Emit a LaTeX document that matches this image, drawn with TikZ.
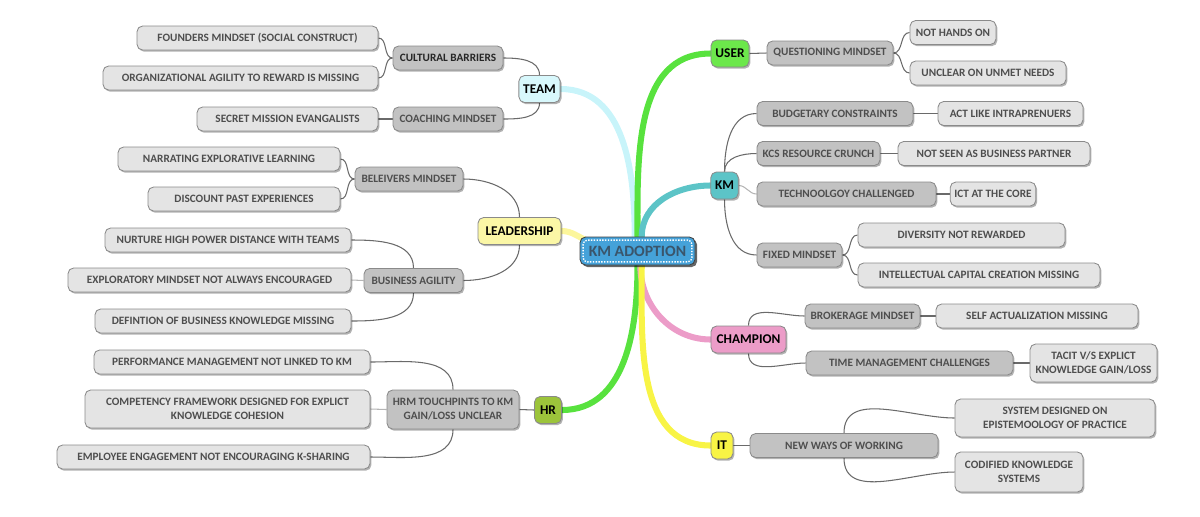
\documentclass[tikz,border=0pt]{standalone}
\usepackage{fontspec}
\setmainfont{Carlito}
\usetikzlibrary{shadows}
\usetikzlibrary{backgrounds}
\definecolor{rootblue}{HTML}{45A2D9}
\definecolor{roottext}{HTML}{3A556B}
\definecolor{teamcol}{HTML}{D8F8FC}
\definecolor{teamline}{HTML}{C8F4FA}
\definecolor{leadcol}{HTML}{FBF7A6}
\definecolor{leadline}{HTML}{FCF69B}
\definecolor{hrcol}{HTML}{9CC43B}
\definecolor{usercol}{HTML}{6CE84B}
\definecolor{greenline}{HTML}{58E23E}
\definecolor{kmcol}{HTML}{5CC4C7}
\definecolor{champcol}{HTML}{EC9CC8}
\definecolor{itcol}{HTML}{F8F445}
\definecolor{subgray}{HTML}{C2C2C2}
\definecolor{leafgray}{HTML}{E4E4E4}
\definecolor{boxline}{HTML}{8A8A8A}
\definecolor{textgray}{HTML}{4E4E4E}
\definecolor{twiggray}{HTML}{6A6A6A}
\def\pix{0.025cm} % one pixel of the 1200x516 layout
\tikzstyle{mapshape}=[rounded corners=4pt, draw=boxline, line width=0.6pt, align=center, inner xsep=3pt, inner ysep=3pt]
\tikzstyle{mapbox}=[mapshape, drop shadow={shadow xshift=1pt, shadow yshift=-1.2pt, opacity=0.3, fill=black}]
\tikzstyle{topic}=[mapbox, text=black, font=\bfseries\fontsize{9.5}{11}\selectfont, minimum height=27*\pix]
\tikzstyle{subtopic}=[mapbox, fill=subgray, text=textgray, font=\bfseries\fontsize{8}{10}\selectfont, minimum height=24*\pix]
\tikzstyle{leaf}=[subtopic, fill=leafgray]
\tikzstyle{branch}=[line width=4.3pt, line cap=round]
\tikzstyle{twig}=[draw=twiggray, line width=0.75pt]
\tikzset{wd/.style={minimum width=#1*\pix}}

\begin{document}
\begin{tikzpicture}[x=\pix, y=\pix]
\useasboundingbox (0,0) rectangle (1200,-516);
% centre
\node[mapshape, fill=rootblue, draw=black!75, text=roottext, font=\bfseries\fontsize{11.2}{13}\selectfont, wd=115, minimum height=28*\pix,
  drop shadow={shadow xshift=1.5pt, shadow yshift=-1.5pt, opacity=0.6, fill=black}] (root) at (637.5,-251) {KM ADOPTION};
\draw[white, densely dotted, line width=1pt, rounded corners=3pt] ([shift={(2.5pt,-2.5pt)}]root.north west) rectangle ([shift={(-2.5pt,2.5pt)}]root.south east);
% main topics
\node[topic, fill=teamcol, wd=41] (team) at (539.5,-89) {TEAM};
\node[topic, fill=leadcol, wd=83] (lead) at (519.5,-231) {LEADERSHIP};
\node[topic, fill=hrcol, wd=27] (hr) at (548,-410) {HR};
\node[topic, fill=usercol, wd=38] (user) at (730,-53.5) {USER};
\node[topic, fill=kmcol, wd=27] (km) at (724.5,-185.5) {KM};
\node[topic, fill=champcol, wd=75] (champ) at (748.5,-339.5) {CHAMPION};
\node[topic, fill=itcol, wd=22] (it) at (722,-445.5) {IT};
% team
\node[subtopic, wd=110, text=black!85] (cult) at (448,-58) {CULTURAL BARRIERS};
\node[subtopic, wd=110] (coach) at (448,-119) {COACHING MINDSET};
\node[leaf, wd=241] (cult1) at (257.5,-38) {FOUNDERS MINDSET (SOCIAL CONSTRUCT)};
\node[leaf, wd=275] (cult2) at (240.5,-78) {ORGANIZATIONAL AGILITY TO REWARD IS MISSING};
\node[leaf, wd=181] (coach1) at (287.5,-119) {SECRET MISSION EVANGALISTS};
% leadership
\node[subtopic, wd=108] (belief) at (409,-179) {BELEIVERS MINDSET};
\node[subtopic, wd=99] (agile) at (413.5,-280.5) {BUSINESS AGILITY};
\node[leaf, wd=222] (belief1) at (229,-159) {NARRATING EXPLORATIVE LEARNING};
\node[leaf, wd=192] (belief2) at (244,-199) {DISCOUNT PAST EXPERIENCES};
\node[leaf, wd=246] (agile1) at (228,-240) {NURTURE HIGH POWER DISTANCE WITH TEAMS};
\node[leaf, wd=283] (agile2) at (209.5,-280) {EXPLORATORY MINDSET NOT ALWAYS ENCOURAGED};
\node[leaf, wd=256] (agile3) at (223,-321) {DEFINTION OF BUSINESS KNOWLEDGE MISSING};
% hr
\node[subtopic, wd=132, minimum height=39*\pix] (hrm) at (453,-409.5) {HRM TOUCHPINTS TO KM\\GAIN/LOSS UNCLEAR};
\node[leaf, wd=276] (hrm1) at (232,-362) {PERFORMANCE MANAGEMENT NOT LINKED TO KM};
\node[leaf, wd=285, minimum height=38*\pix] (hrm2) at (227.5,-409) {COMPETENCY FRAMEWORK DESIGNED FOR EXPLICT\\KNOWLEDGE COHESION};
\node[leaf, wd=313] (hrm3) at (213.5,-457) {EMPLOYEE ENGAGEMENT NOT ENCOURAGING K-SHARING};
% user
\node[subtopic, wd=126] (quest) at (830,-53) {QUESTIONING MINDSET};
\node[leaf, wd=86] (quest1) at (953,-32.5) {NOT HANDS ON};
\node[leaf, wd=156] (quest2) at (988,-73) {UNCLEAR ON UNMET NEEDS};
% km
\node[subtopic, wd=156] (budget) at (835,-113.5) {BUDGETARY CONSTRAINTS};
\node[subtopic, wd=123] (kcs) at (818.5,-153.5) {KCS RESOURCE CRUNCH};
\node[subtopic, wd=179] (tech) at (846.5,-194) {TECHNOOLGOY CHALLENGED};
\node[subtopic, wd=85] (fixed) at (799.5,-255) {FIXED MINDSET};
\node[leaf, wd=145] (budget1) at (1010.5,-113.5) {ACT LIKE INTRAPRENUERS};
\node[leaf, wd=192] (kcs1) at (994,-153.5) {NOT SEEN AS BUSINESS PARTNER};
\node[leaf, wd=80] (tech1) at (993,-194) {ICT AT THE CORE};
\node[leaf, wd=207] (fixed1) at (961.5,-235) {DIVERSITY NOT REWARDED};
\node[leaf, wd=242] (fixed2) at (979,-275) {INTELLECTUAL CAPITAL CREATION MISSING};
% champion
\node[subtopic, wd=115] (broker) at (862.5,-316) {BROKERAGE MINDSET};
\node[subtopic, wd=207] (time) at (909.5,-363) {TIME MANAGEMENT CHALLENGES};
\node[leaf, wd=202] (broker1) at (1037,-316) {SELF ACTUALIZATION MISSING};
\node[leaf, wd=127, minimum height=38*\pix] (time1) at (1093.5,-363) {TACIT V/S EXPLICT\\KNOWLEDGE GAIN/LOSS};
% it
\node[subtopic, wd=188] (ways) at (844,-445.5) {NEW WAYS OF WORKING};
\node[leaf, wd=200, minimum height=38*\pix] (ways1) at (1055,-418) {SYSTEM DESIGNED ON\\EPISTEMOOLOGY OF PRACTICE};
\node[leaf, wd=128, minimum height=40*\pix] (ways2) at (1019,-472) {CODIFIED KNOWLEDGE\\SYSTEMS};

\begin{scope}[on background layer]
% branches out of the centre
\draw[branch, teamline] ([xshift=-2pt]root.north) to[out=90, in=0] (team.east);
\draw[branch, greenline] (root.north) to[out=90, in=180] (user.west);
\draw[branch, kmcol] ([xshift=3pt]root.north) to[out=90, in=180] (km.west);
\draw[branch, leadline] (lead.east) to[out=0, in=160] ([xshift=6pt,yshift=-3pt]root.north west);
\draw[branch, greenline] (root.south) to[out=-90, in=0] (hr.east);
\draw[branch, champcol] ([xshift=2pt]root.south) to[out=-90, in=180] (champ.west);
\draw[branch, itcol] ([xshift=3pt]root.south) to[out=-90, in=180] (it.west);
% left side
\draw[twig] (team.north) to[out=90, in=0] (cult.east);
\draw[twig] (team.south) to[out=-90, in=0] (coach.east);
\foreach \n in {cult1,cult2} \draw[twig] (cult.west) to[out=180, in=0] (\n.east);
\draw[twig] (coach.west) -- (coach1.east);
\draw[twig] (lead.north) to[out=90, in=0] (belief.east);
\draw[twig] (lead.south) to[out=-90, in=0] (agile.east);
\foreach \n in {belief1,belief2} \draw[twig] (belief.west) to[out=180, in=0] (\n.east);
\draw[twig] (agile.north) to[out=90, in=0] (agile1.east);
\draw[twig, twiggray!50] (agile.west) -- (agile2.east);
\draw[twig] (agile.south) to[out=-90, in=0] (agile3.east);
\draw[twig] (hr.west) -- (hrm.east);
\draw[twig] (hrm.north) to[out=90, in=0] (hrm1.east);
\draw[twig, twiggray!50] (hrm.west) -- (hrm2.east);
\draw[twig] (hrm.south) to[out=-90, in=0] (hrm3.east);
% right side
\draw[twig] (user.east) -- (quest.west);
\foreach \n in {quest1,quest2} \draw[twig] (quest.east) to[out=0, in=180] (\n.west);
\foreach \n in {budget,kcs} \draw[twig] (km.north) to[out=90, in=180] (\n.west);
\draw[twig, twiggray!50] (km.east) to[out=0, in=180] (tech.west);
\draw[twig] (km.south) to[out=-90, in=180] (fixed.west);
\foreach \a/\b in {budget/budget1,kcs/kcs1,tech/tech1,broker/broker1,time/time1}
  \draw[twig] (\a.east) -- (\b.west);
\foreach \n in {fixed1,fixed2} \draw[twig] (fixed.east) to[out=0, in=180] (\n.west);
\draw[twig] (champ.north) to[out=90, in=180] (broker.west);
\draw[twig] (champ.south) to[out=-90, in=180] (time.west);
\draw[twig] (it.east) -- (ways.west);
\draw[twig] (ways.north) to[out=90, in=180] (ways1.west);
\draw[twig] (ways.south) to[out=-90, in=180] (ways2.west);
\end{scope}
\end{tikzpicture}
\end{document}
